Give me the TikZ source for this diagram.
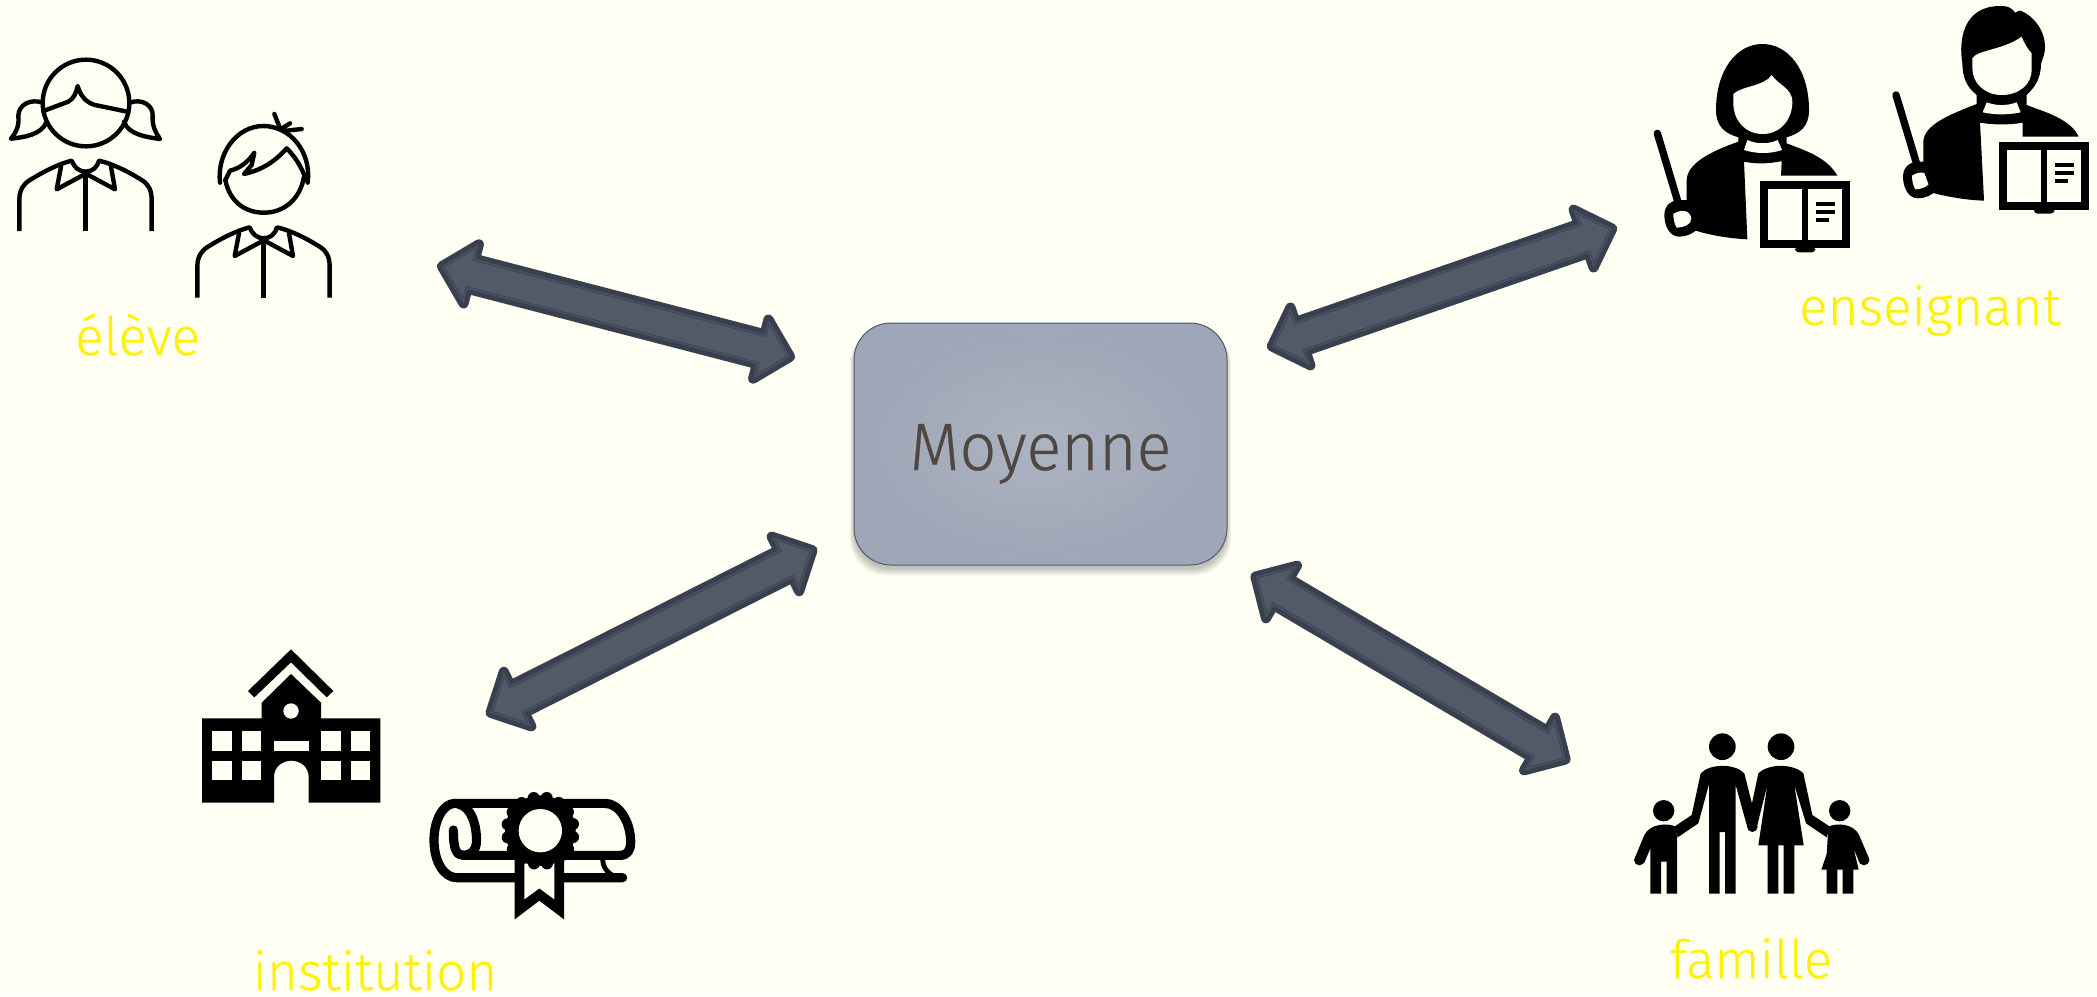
\documentclass[tikz,border=0pt]{standalone}
\usepackage{fontspec}
\setmainfont{Fira Sans Light}[FakeBold=0.35]
\newfontfamily\moyfont{Fira Sans Light}[FakeStretch=0.965,FakeBold=0.45]
\usetikzlibrary{calc}
\definecolor{bgc}{RGB}{255,255,243}
\definecolor{arrowdark}{RGB}{56,63,78}
\definecolor{arrowband}{RGB}{74,82,98}
\definecolor{arrowthin}{RGB}{62,69,85}
\definecolor{arrowfill}{RGB}{82,90,106}
\definecolor{boxedge}{RGB}{79,90,112}
\definecolor{boxin}{RGB}{172,179,193}
\definecolor{boxout}{RGB}{158,166,183}
\definecolor{textbrown}{RGB}{81,71,66}
\tikzset{
  px/.style={x=0.5pt,y=-0.5pt},
  zoomed/.style={x=0.166667pt,y=-0.166667pt},
  label text/.style={text=yellow,anchor=base,inner sep=0pt,font=\fontsize{26.5}{26.5}\selectfont},
  line icon/.style={draw=black,line width=2.2pt,line cap=round,line join=round},
  scroll line/.style={draw=black,line width=4.6pt,line cap=round,line join=round},
}
% polygon of a two-headed block arrow between two named coordinates
\newcommand{\arrowpoly}[7]{%
  \path[#7] ($(#1)!#3pt!(#2)$)
    -- ($(#1)!#4pt!(#2)!#5pt!90:(#2)$) -- ($(#1)!#4pt!(#2)!#6pt!90:(#2)$)
    -- ($(#2)!#4pt!(#1)!#6pt!-90:(#1)$) -- ($(#2)!#4pt!(#1)!#5pt!-90:(#1)$)
    -- ($(#2)!#3pt!(#1)$)
    -- ($(#2)!#4pt!(#1)!#5pt!90:(#1)$) -- ($(#2)!#4pt!(#1)!#6pt!90:(#1)$)
    -- ($(#1)!#4pt!(#2)!#6pt!-90:(#2)$) -- ($(#1)!#4pt!(#2)!#5pt!-90:(#2)$)
    -- cycle;}
\newcommand{\blockarrow}[2]{%
  \arrowpoly{#1}{#2}{2.5}{17.7}{15.3}{7.7}{fill=arrowdark,draw=arrowdark,line width=5pt,line join=round}%
  \arrowpoly{#1}{#2}{2.5}{17.7}{15.3}{7.7}{fill=arrowband}%
  \arrowpoly{#1}{#2}{3.56}{16.95}{13.4}{6.95}{fill=arrowthin}%
  \arrowpoly{#1}{#2}{4.27}{16.45}{12.2}{6.45}{fill=arrowfill}}
% shirt of the two children (zoom coordinates of the girl)
\newcommand{\childshirt}{%
  \draw[line icon,line cap=butt] (58,603) -- (58,510) .. controls (58,480) and (70,462) .. (90,450)
     .. controls (130,425) and (175,402) .. (215,392)
     .. controls (222,412) and (238,425) .. (257,425)
     .. controls (276,425) and (292,412) .. (297,392)
     .. controls (340,402) and (385,425) .. (425,450)
     .. controls (445,462) and (455,480) .. (455,510) -- (455,603);
  \draw[line icon,line cap=butt] (257,430) -- (257,603);
  \draw[line icon] (183,410) -- (170,478) -- (250,435);
  \draw[line icon] (333,410) -- (345,478) -- (265,435);}
% book with pointer of the two teachers
\newcommand{\teacherbook}{%
  \fill[black] (390,542) rectangle (661,745);
  \fill[black,rounded corners=1.8pt] (495,740) rectangle (556,757);
  \fill[bgc] (414,566) rectangle (517,721);
  \fill[bgc] (533,566) rectangle (637,721);
  \fill[black] (558,606) rectangle (615,618);
  \fill[black] (558,630) rectangle (615,642);
  \fill[black] (558,654) rectangle (596,665);}
\newcommand{\teacherhand}{%
  \draw[black,line width=3.7pt,line cap=round] (82,400) -- (145,610);
  \fill[black] (150,600) .. controls (125,600) and (103,615) .. (103,645)
     .. controls (103,680) and (120,710) .. (148,710)
     .. controls (170,710) and (190,700) .. (205,685) -- (180,600) -- cycle;
  \fill[bgc] (130,642) .. controls (150,628) and (180,628) .. (184,655)
     .. controls (184,675) and (160,682) .. (140,683)
     .. controls (132,670) and (130,655) .. (130,642) -- cycle;}
\begin{document}
\begin{tikzpicture}[px]
\useasboundingbox (0,0) rectangle (2097,996);
\fill[bgc] (0,0) rectangle (2097,996);

% ---- centre box
\foreach \g in {0,1,...,6}{
  \fill[black,opacity=0.035,rounded corners=18.5pt]
    ($(854-\g*0.7,327)$) rectangle ($(1227+\g*0.7,569+\g*1.1)$);}
\node[minimum width=186.5pt,minimum height=121pt,rounded corners=18.5pt,draw=boxedge,line width=0.5pt,
      inner color=boxin,outer color=boxout,text=textbrown,inner sep=0pt,
      text height=26pt,text depth=0pt,font=\moyfont\fontsize{33.5}{36}\selectfont]
      (moyenne) at (1040.5,444) {Moyenne};

% ---- connector ends
\coordinate (a1) at (437,265); \coordinate (a2) at (795,358);
\coordinate (b1) at (1267,348); \coordinate (b2) at (1617,227);
\coordinate (c1) at (486,715); \coordinate (c2) at (817,548);
\coordinate (d1) at (1251,574); \coordinate (d2) at (1570,762);
\blockarrow{a1}{a2}
\blockarrow{b1}{b2}
\blockarrow{c1}{c2}
\blockarrow{d1}{d2}

% ---- labels
\node[label text] (eleve) at (137.5,355) {élève};
\node[label text] (enseignant) at (1930,325) {enseignant};
\node[label text] (institution) at (375,990) {institution};
\node[label text] (famille) at (1751,978) {famille};

% ---- girl and boy
\begin{scope}[shift={(0,30)},zoomed]
  \draw[line icon] (258,219) circle[radius=130];
  \draw[line icon] (130,243) -- (205,215) .. controls (222,205) and (228,190) .. (233,168)
     .. controls (240,195) and (258,218) .. (285,225) -- (382,245);
  \draw[line icon] (128,218) .. controls (90,205) and (55,225) .. (55,258)
     .. controls (58,285) and (50,305) .. (33,326) .. controls (70,322) and (125,315) .. (140,275);
  \draw[line icon] (390,218) .. controls (425,205) and (460,225) .. (458,258)
     .. controls (456,285) and (465,305) .. (480,327) .. controls (445,322) and (385,315) .. (372,275);
  \childshirt
  \begin{scope}[shift={(534,200)}]\childshirt\end{scope}
  \draw[line icon] (660,458) .. controls (650,370) and (710,288) .. (790,288)
     .. controls (870,288) and (935,365) .. (923,458);
  \draw[line icon] (676,450) .. controls (690,520) and (740,548) .. (792,548)
     .. controls (850,548) and (900,510) .. (912,440);
  \draw[line icon] (676,450) -- (690,422) .. controls (720,415) and (745,395) .. (763,368)
     -- (755,405) -- (732,432) .. controls (785,420) and (825,395) .. (860,355)
     .. controls (885,380) and (905,410) .. (918,450);
  \draw[line icon] (823,252) -- (840,295);
  \draw[line icon] (848,294) -- (870,280);
  \draw[line icon] (860,302) -- (905,297);
\end{scope}

% ---- teachers
\begin{scope}[shift={(1630,0)},zoomed]
  % woman
  \teacherhand
  \fill[black] (325,425) .. controls (240,455) and (172,490) .. (170,540) -- (170,610)
     -- (197,692) .. controls (250,708) and (300,715) .. (352,718) -- (342,485)
     .. controls (380,493) and (420,491) .. (455,483) -- (453,527) -- (622,527)
     .. controls (590,470) and (520,450) .. (470,430) -- (470,400) -- (325,400) -- cycle;
  \fill[black] (397,132) .. controls (320,132) and (258,210) .. (258,330)
     .. controls (258,380) and (285,400) .. (325,412) -- (470,412)
     .. controls (510,400) and (537,380) .. (537,330)
     .. controls (537,210) and (475,132) .. (397,132) -- cycle;
  \fill[bgc] (310,282) .. controls (335,258) and (405,258) .. (425,225)
     .. controls (445,255) and (487,265) .. (487,305)
     .. controls (487,360) and (450,402) .. (398,402)
     .. controls (345,402) and (310,360) .. (310,310) -- cycle;
  \fill[bgc] (352,420) -- (342,450) .. controls (380,462) and (420,462) .. (456,450)
     -- (443,420) .. controls (415,433) and (380,433) .. (352,420) -- cycle;
  \teacherbook
  % man
  \begin{scope}[shift={(716,-115)}]\teacherhand\end{scope}
  \fill[black] (1040,312) .. controls (955,345) and (882,375) .. (880,425) -- (880,510)
     -- (905,578) .. controls (960,592) and (1010,600) .. (1062,602) -- (1050,368)
     .. controls (1090,375) and (1140,375) .. (1178,368) -- (1178,410) -- (1346,410)
     .. controls (1320,355) and (1240,335) .. (1190,315) -- (1190,280) -- (1040,280) -- cycle;
  \fill[black] (1110,18) .. controls (1125,18) and (1142,18) .. (1155,38)
     .. controls (1160,35) and (1165,32) .. (1172,32)
     .. controls (1215,50) and (1245,95) .. (1245,140)
     .. controls (1245,160) and (1240,170) .. (1233,190)
     .. controls (1233,240) and (1210,265) .. (1190,285) -- (1040,285)
     .. controls (1010,262) and (997,230) .. (997,190)
     .. controls (985,120) and (1000,18) .. (1110,18) -- cycle;
  \fill[bgc] (1027,175) .. controls (1040,150) and (1120,150) .. (1175,110)
     .. controls (1182,130) and (1195,150) .. (1205,160) -- (1205,210)
     .. controls (1205,250) and (1170,285) .. (1115,285)
     .. controls (1065,285) and (1027,250) .. (1027,205) -- cycle;
  \fill[bgc] (1070,307) -- (1058,337) .. controls (1095,345) and (1135,345) .. (1172,337)
     -- (1160,307) .. controls (1130,318) and (1100,318) .. (1070,307) -- cycle;
  \begin{scope}[shift={(717,-116)}]\teacherbook\end{scope}
\end{scope}

% ---- school
\begin{scope}[shift={(180,630)},zoomed]
  \fill[black] (333,58) -- (460,183) -- (440,202) -- (333,97) -- (223,202) -- (204,183) -- cycle;
  \fill[black] (66,265) -- (245,265) -- (245,218) -- (333,132) -- (423,218) -- (423,265)
     -- (601,265) -- (601,518) -- (386,518) -- (386,440)
     .. controls (386,410) and (360,392) .. (334,392)
     .. controls (308,392) and (282,410) .. (282,440) -- (282,518) -- (66,518) -- cycle;
  \foreach \wx in {96,185,423,512}{
    \fill[bgc] (\wx,303) rectangle ++(59,59);
    \fill[bgc] (\wx,392) rectangle ++(59,59);}
  \fill[bgc] (282,333) rectangle (386,362);
  \fill[bgc] (333,243) circle[radius=23];
  % diploma
  \draw[scroll line] (825,520) -- (1275,520) .. controls (1320,520) and (1352,580) .. (1352,635)
     .. controls (1352,662) and (1342,676) .. (1320,676) -- (850,676)
     .. controls (830,676) and (820,660) .. (820,600);
  \draw[scroll line] (825,520) .. controls (790,520) and (762,570) .. (762,630)
     .. controls (762,700) and (795,743) .. (830,743) -- (1328,743);
  \draw[scroll line] (835,522) .. controls (875,530) and (892,590) .. (889,640)
     .. controls (886,668) and (865,676) .. (850,676);
  \draw[scroll line,line width=2.4pt] (1268,690) .. controls (1270,725) and (1300,743) .. (1328,743);
  \fill[black] (1004,690) -- (1004,868) -- (1078,812) -- (1152,868) -- (1152,690) -- cycle;
  \fill[bgc] (1033,700) -- (1033,808) -- (1078,775) -- (1123,808) -- (1123,700) -- cycle;
  \fill[black] (1081,602) circle[radius=106];
  \foreach \ang in {0,22.5,...,337.5}{
    \fill[black] (1081,602) ++(\ang+11:100) circle[radius=18];}
  \fill[bgc] (1081,602) circle[radius=65];
\end{scope}

% ---- family
\begin{scope}[shift={(1610,710)},zoomed]
  \foreach \hx/\hy/\hr in {337/110/40,513/110/40,161/302/32,689/302/32}{
    \fill[black] (\hx,\hy) circle[radius=\hr];}
  % father
  \fill[black] (272,190) .. controls (300,160) and (375,160) .. (403,190) -- (442,345)
     -- (412,352) -- (377,225) -- (377,551) -- (345,551) -- (345,366) -- (329,366) -- (329,551)
     -- (297,551) -- (297,222) -- (265,340) -- (203,382) -- (193,350) -- (245,315) -- cycle;
  \fill[black] (427,350) circle[radius=16];
  % mother
  \fill[black] (445,190) .. controls (475,160) and (550,160) .. (580,190) -- (607,315) -- (660,350)
     -- (650,382) -- (588,340) -- (553,225) -- (581,406) -- (553,406) -- (553,551) -- (521,551)
     -- (521,406) -- (505,406) -- (505,551) -- (473,551) -- (473,406) -- (445,406) -- (472,225)
     -- (442,345) -- (412,345) -- cycle;
  % son
  \fill[black] (103,375) .. controls (120,340) and (175,338) .. (197,350) -- (201,382) -- (201,551)
     -- (170,551) -- (170,455) -- (153,455) -- (153,551) -- (121,551) -- (121,415) -- (103,458)
     -- (74,445) -- cycle;
  \fill[black] (88,450) circle[radius=16];
  % daughter
  \fill[black] (655,350) .. controls (680,338) and (730,340) .. (747,375) -- (777,445) -- (748,458)
     -- (731,415) -- (746,479) -- (730,479) -- (730,551) -- (698,551) -- (698,479) -- (682,479)
     -- (682,551) -- (650,551) -- (650,479) -- (634,479) -- (650,432) -- cycle;
  \fill[black] (762,450) circle[radius=16];
\end{scope}
\end{tikzpicture}
\end{document}
